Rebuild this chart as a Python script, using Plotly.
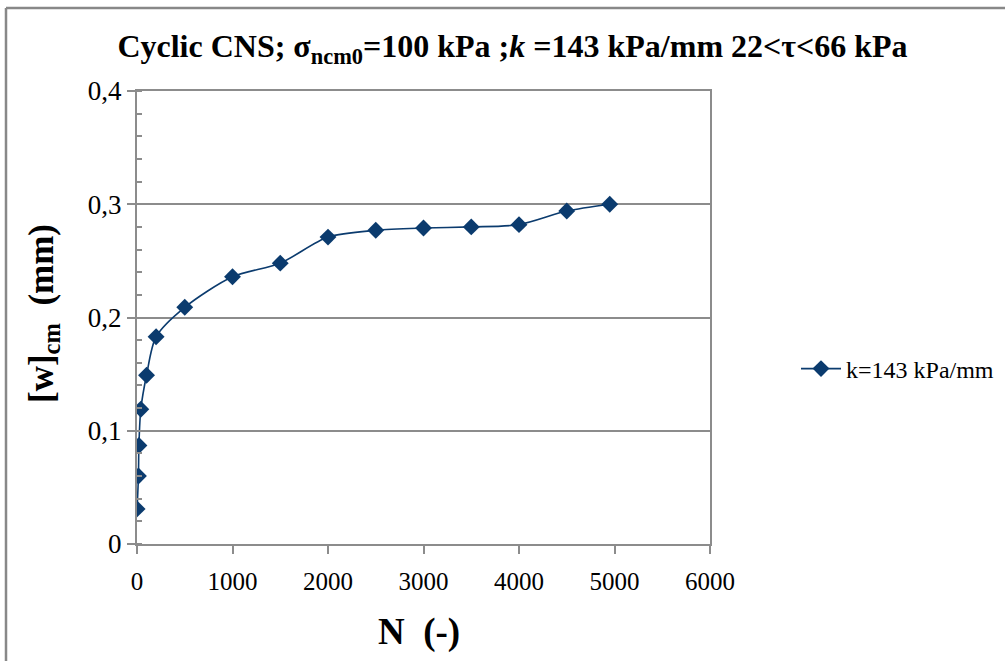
import plotly.graph_objects as go

# Data
N_cycles = [1, 15, 20, 40, 100, 200, 500, 1000, 1500, 2000, 2500, 3000, 3500, 4000, 4500, 4950]
w_cm = [0.031, 0.060, 0.087, 0.119, 0.149, 0.183, 0.209, 0.236, 0.248, 0.271, 0.277, 0.279, 0.280, 0.282, 0.294, 0.300]
series_name = "k=143 kPa/mm"

x_tickvals = [0, 1000, 2000, 3000, 4000, 5000, 6000]
x_ticktext = ["0", "1000", "2000", "3000", "4000", "5000", "6000"]
y_tickvals = [0, 0.1, 0.2, 0.3, 0.4]
y_ticktext = ["0", "0,1", "0,2", "0,3", "0,4"]

W, H = 1005, 661
L, R, T, B = 137, 710, 91, 544
SERIF = "Liberation Serif, Times New Roman, serif"
GRID = "#8c8c8c"
BLUE = "#0b3b6e"

fig = go.Figure()
fig.add_trace(go.Scatter(
    x=N_cycles, y=w_cm, name=series_name, mode="lines+markers",
    line=dict(color=BLUE, width=1.6, shape="spline", smoothing=0.8),
    marker=dict(symbol="diamond", size=13, color=BLUE),
))

def px_x(p):
    return (p - L) / (R - L)

def px_y(p):
    return (B - p) / (B - T)

fig.update_layout(
    width=W, height=H,
    margin=dict(l=L, r=W - R, t=T, b=H - B, autoexpand=False),
    paper_bgcolor="white", plot_bgcolor="white",
    font=dict(family=SERIF, size=20, color="black"),
    title=dict(
        text="<b>Cyclic CNS; σ<sub>ncm0</sub>=100 kPa ;<i>k</i> =143 kPa/mm 22&lt;τ&lt;66 kPa</b>",
        x=(120 + 905) / 2 / W, xanchor="center",
        y=1 - 46 / H, yanchor="middle", yref="container",
        font=dict(family=SERIF, size=32, color="black"),
    ),
    showlegend=True,
    legend=dict(
        x=796 / W, y=1 - 369 / H, xref="container", yref="container",
        xanchor="left", yanchor="middle",
        font=dict(family=SERIF, size=24, color="black"),
        bgcolor="rgba(0,0,0,0)", itemwidth=40,
    ),
    xaxis=dict(
        range=[0, 6000], tickvals=x_tickvals, ticktext=x_ticktext,
        showgrid=False, zeroline=False,
        showline=True, linecolor=GRID, linewidth=2, mirror=True,
        ticks="outside", ticklen=8, tickwidth=2, tickcolor=GRID,
        tickfont=dict(family=SERIF, size=25, color="black"),
        ticklabelstandoff=6,
    ),
    yaxis=dict(
        range=[0, 0.4], tickvals=y_tickvals, ticktext=y_ticktext,
        showgrid=True, gridcolor=GRID, gridwidth=2, zeroline=False,
        showline=True, linecolor=GRID, linewidth=2, mirror=True,
        ticks="outside", ticklen=8, tickwidth=2, tickcolor=GRID,
        tickfont=dict(family=SERIF, size=27, color="black"),
        minor=dict(dtick=0.02, ticks="inside", ticklen=5, tickwidth=2, tickcolor=GRID, showgrid=False),
    ),
    annotations=[
        dict(text="<b>N  (-)</b>", x=px_x(419), y=px_y(632), xref="paper", yref="paper",
             xanchor="center", yanchor="middle", showarrow=False,
             font=dict(family=SERIF, size=37, color="black")),
        dict(text="<b>[w]<sub>cm</sub>  (mm)</b>", x=px_x(43), y=px_y(314), xref="paper", yref="paper",
             xanchor="center", yanchor="middle", showarrow=False, textangle=-90,
             font=dict(family=SERIF, size=35, color="black")),
    ],
    shapes=[
        dict(type="line", xref="paper", yref="paper", x0=px_x(6), x1=px_x(6), y0=px_y(8), y1=px_y(700),
             line=dict(color="#888888", width=2.5)),
        dict(type="line", xref="paper", yref="paper", x0=px_x(6), x1=px_x(1100), y0=px_y(8), y1=px_y(8),
             line=dict(color="#888888", width=2.5)),
    ],
)

fig.write_html("out.html")
